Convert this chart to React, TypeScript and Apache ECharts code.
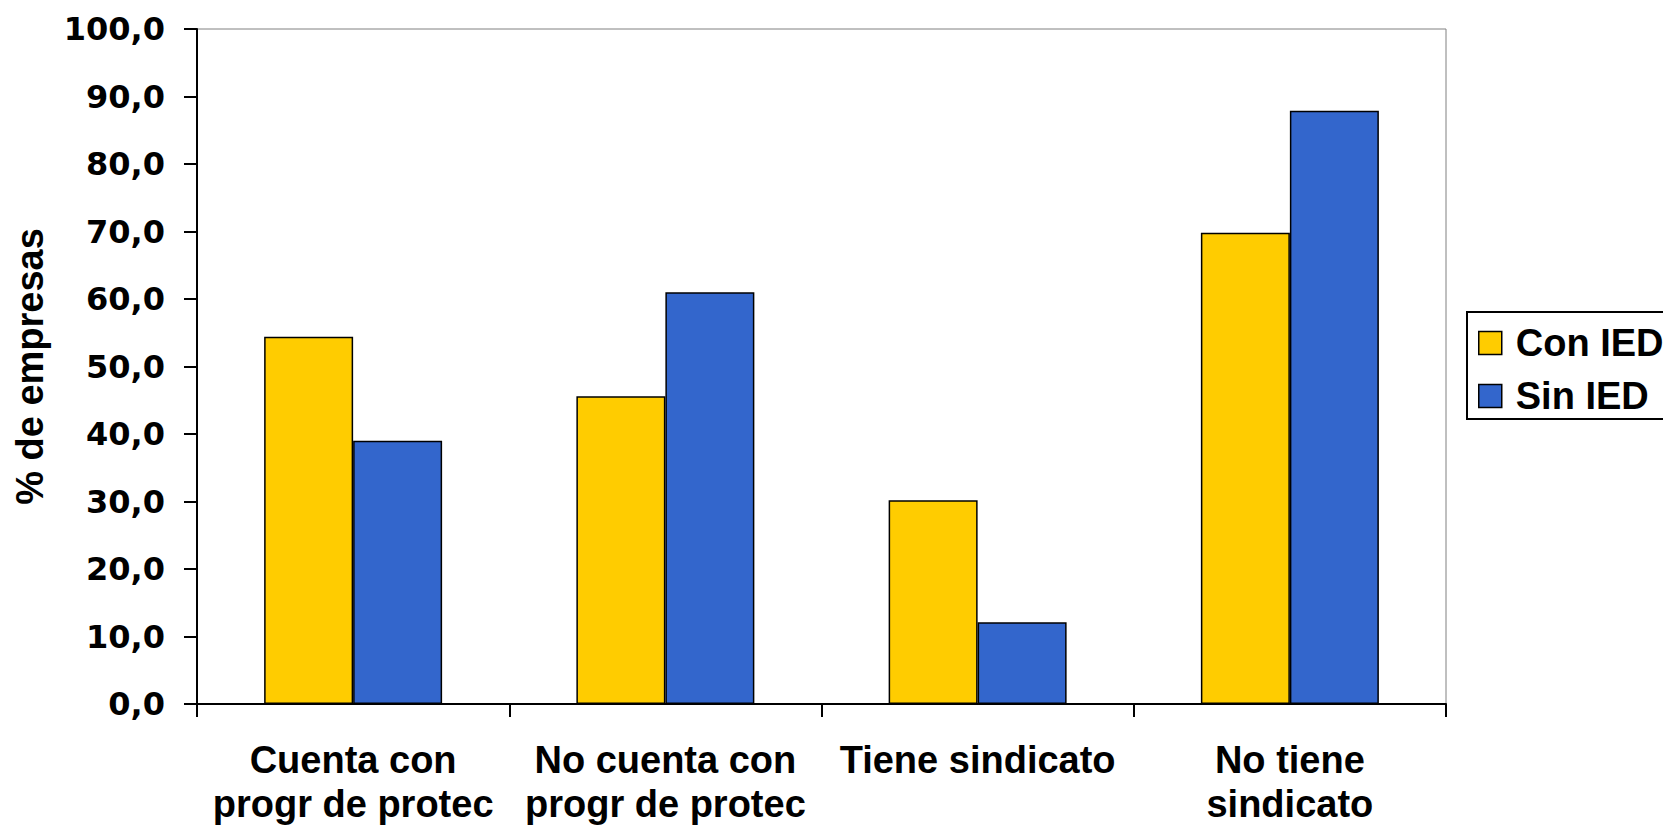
import React, { useEffect, useRef } from "react";
import * as echarts from "echarts";

const categories = [
  "Cuenta con\nprogr de protec",
  "No cuenta con\nprogr de protec",
  "Tiene sindicato",
  "No tiene\nsindicato",
];
const seriesNames = ["Con IED", "Sin IED"];
const conIED = [54.4, 45.6, 30.2, 69.8];
const sinIED = [39.0, 61.0, 12.1, 87.9];
const yTickLabels = ["0,0", "10,0", "20,0", "30,0", "40,0", "50,0", "60,0", "70,0", "80,0", "90,0", "100,0"];
const yAxisTitle = "% de empresas";

const ARIAL = "'Liberation Sans', Arial, sans-serif";
const WIDE = "'DejaVu Sans', Verdana, sans-serif";

export default function App() {
  const ref = useRef<HTMLDivElement>(null);
  useEffect(() => {
    if (!ref.current) return;
    const chart = echarts.init(ref.current, null, { renderer: "svg" });
    chart.setOption({
      animation: false,
      backgroundColor: "#ffffff",
      grid: {
        left: 197,
        top: 29,
        width: 1249,
        height: 675,
        show: true,
        borderColor: "#808080",
        borderWidth: 1,
        backgroundColor: "transparent",
      },
      legend: {
        orient: "vertical",
        left: 1467,
        top: 312,
        padding: [12, 10, 4, 11],
        itemWidth: 23,
        itemHeight: 23,
        itemGap: 15,
        borderColor: "#000000",
        borderWidth: 2,
        backgroundColor: "#ffffff",
        icon: "rect",
        itemStyle: { borderColor: "#000000", borderWidth: 1.5 },
        textStyle: {
          fontSize: 38,
          fontWeight: "bold",
          fontFamily: ARIAL,
          color: "#000000",
          lineHeight: 38,
          padding: [0, 0, 0, 9],
        },
        data: seriesNames,
      },
      xAxis: {
        type: "category",
        data: categories,
        axisLine: { show: true, lineStyle: { color: "#000000", width: 2 } },
        axisTick: { show: true, length: 13, alignWithLabel: false, lineStyle: { color: "#000000", width: 2 } },
        splitLine: { show: false },
        axisLabel: {
          interval: 0,
          margin: 34,
          fontSize: 38,
          lineHeight: 44,
          fontWeight: "bold",
          fontFamily: ARIAL,
          color: "#000000",
        },
      },
      yAxis: {
        type: "value",
        min: 0,
        max: 100,
        interval: 10,
        name: yAxisTitle,
        nameLocation: "middle",
        nameGap: 148,
        nameTextStyle: {
          fontSize: 38,
          fontWeight: "bold",
          fontFamily: ARIAL,
          color: "#000000",
        },
        axisLine: { show: true, lineStyle: { color: "#000000", width: 2 } },
        axisTick: { show: true, length: 13, lineStyle: { color: "#000000", width: 2 } },
        splitLine: { show: false },
        axisLabel: {
          margin: 32,
          fontSize: 32,
          fontWeight: "bold",
          fontFamily: WIDE,
          color: "#000000",
          formatter: (v: number) => yTickLabels[Math.round(v / 10)] ?? "",
        },
      },
      series: [
        {
          name: seriesNames[0],
          type: "bar",
          data: conIED,
          barGap: "0%",
          barCategoryGap: "43%",
          itemStyle: { color: "#FFCC00", borderColor: "#000000", borderWidth: 1.5 },
        },
        {
          name: seriesNames[1],
          type: "bar",
          data: sinIED,
          barGap: "0%",
          barCategoryGap: "43%",
          itemStyle: { color: "#3366CC", borderColor: "#000000", borderWidth: 1.5 },
        },
      ],
    });
    return () => chart.dispose();
  }, []);
  return (
    <div
      ref={ref}
      style={{ position: "fixed", left: 0, top: 0, width: 1663, height: 829 }}
    />
  );
}
